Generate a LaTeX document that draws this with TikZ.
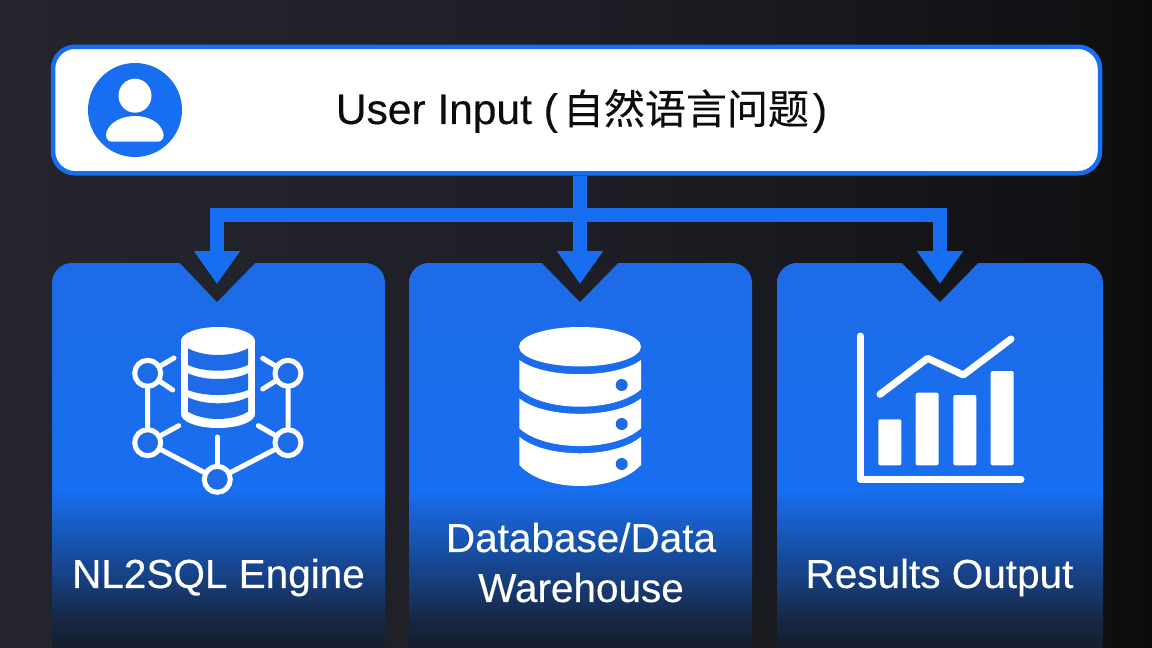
\documentclass[tikz,border=0pt]{standalone}
\usepackage{fontspec}
\usepackage{xcolor}
\usepackage{tikz}
\usetikzlibrary{positioning,arrows.meta,calc}
\setmainfont{Liberation Sans}
\newfontfamily\lblfont[FakeBold=0.25]{Liberation Sans}
\newfontfamily\cjk[FakeBold=0.2]{Noto Sans CJK SC}
\definecolor{flowcol} {RGB}{24, 110, 240}
\definecolor{cardcol} {RGB}{29, 107, 230}
\definecolor{fadecol} {RGB}{22, 29, 44}
\definecolor{inkcol}  {RGB}{12, 12, 14}
\definecolor{bgleft}  {RGB}{36, 37, 45}
\definecolor{bgmid}   {RGB}{30, 31, 38}
\definecolor{bgright} {RGB}{20, 21, 25}
\definecolor{bgedge}  {RGB}{12, 12, 13}
\pgfdeclareverticalshading{cardfade}{100bp}{
  color(0bp)=(fadecol);
  color(29.4bp)=(fadecol);
  color(32.7bp)=(fadecol!88!flowcol);
  color(38bp)=(fadecol!55!flowcol);
  color(48.1bp)=(flowcol);
  color(75bp)=(cardcol);
  color(100bp)=(cardcol)}
\pgfdeclarehorizontalshading{bgfade}{100bp}{
  color(0bp)=(bgleft);
  color(25bp)=(bgleft);
  color(50bp)=(bgmid);
  color(66bp)=(bgright);
  color(72bp)=(bgedge!50!bgright);
  color(75bp)=(bgedge);
  color(100bp)=(bgedge)}
\begin{document}
\begin{tikzpicture}[
  x=1pt,y=-1pt,
  card/.style={rectangle,rounded corners=20pt,minimum height=422pt,
               inner sep=0pt,shading=cardfade},
  inbox/.style={rectangle,rounded corners=22pt,draw=flowcol,fill=white,
                line width=4.5pt,minimum width=1047pt,minimum height=126.5pt,
                inner sep=0pt},
  lbl/.style={text=white,font=\lblfont\fontsize{40.5}{46}\selectfont,inner sep=0pt},
  flow/.style={flowcol,line width=14pt,-{Triangle[length=33pt,width=44pt]}},
  icon/.style={white,line width=5pt,line cap=round},
  hub/.style={circle,draw=white,fill=cardcol,line width=5pt,
              minimum size=26pt,inner sep=0pt},
  ink/.style={line width=7pt,white,line cap=round,line join=round},
  cyl/.style={fill=cardcol}
]
\useasboundingbox (0,0) rectangle (1152,648);
\shade[shading=bgfade] (0,0) rectangle (1152,648);
% cards
\begin{scope}
\clip (0,0) rectangle (1152,648);
\node[card,minimum width=333pt] (engine) at (218.5,474) {};
\node[card,minimum width=343pt] (store)  at (580.5,474) {};
\node[card,minimum width=326pt] (output) at (940,474) {};
\end{scope}
\fill[bgleft!75!bgmid] (179,262) -- (217,302) -- (256,262) -- cycle;
\fill[bgmid] (541,262) -- (580,302) -- (619,262) -- cycle;
\fill[bgright!90!bgmid] (901,262) -- (940,302) -- (979,262) -- cycle;
% input box
\node[inbox] (input) at (576.5,110) {};
\node[text=inkcol,inner sep=0pt,font=\lblfont\fontsize{42.5}{48}\selectfont] (inputlbl) at (581.5,111)
  {User Input (\hspace{5pt}{\cjk\fontsize{41}{48}\selectfont 自然语言问题}\hspace{4pt})};
% connectors
\coordinate (hub) at (580,215);
\coordinate (tipa) at (217,284);
\coordinate (tipb) at (580,284);
\coordinate (tipc) at (940,284);
\draw[flow] (input.south -| hub) -- (tipb);
\draw[flow] (hub) -| (tipa);
\draw[flow] (hub) -| (tipc);
% person
\fill[flowcol] (135,110) circle (47);
\fill[white] (135,95.7) ellipse (16.5 and 17);
\fill[white] (112,141.7) .. controls (107,141.7) and (105,137) .. (106.5,132)
  .. controls (110,122) and (122,116) .. (135,116)
  .. controls (148,116) and (160,122) .. (163,132)
  .. controls (165,137) and (162,141.7) .. (158,141.7) -- cycle;
% engine icon
\node[hub] (n1) at (147.7,373.3) {};
\node[hub] (n2) at (288,373.3) {};
\node[hub] (n3) at (147.7,442.7) {};
\node[hub] (n4) at (288,442.7) {};
\node[hub] (n5) at (217.3,479.3) {};
\draw[icon] (n1) -- (n3) (n3) -- (n5) (n5) -- (n4) (n4) -- (n2);
\draw[icon] (n1) -- (174,358) (n1) -- (172.7,390);
\draw[icon] (n2) -- (262.7,358.3) (n2) -- (262.7,389);
\draw[icon] (n3) -- (178.7,425.7) (n4) -- (258.3,425.7);
\draw[icon] (n5) -- (217.3,437);
\fill[white] (218,341) ellipse (37 and 14);
\fill[white] (218,414) ellipse (37 and 14);
\fill[white] (181,341) rectangle (255,414);
\foreach \ta/\tm/\ba/\bm in {348.3/357.2/365/372.6,373.3/380.9/390/396.7,397.3/405.3/411.7/421.4}
  \fill[cyl] (188,\ta) .. controls (204,\tm) and (232,\tm) .. (248,\ta)
    -- (248,\ba) .. controls (232,\bm) and (204,\bm) .. (188,\ba) -- cycle;
% store icon
\fill[white] (580,346.7) ellipse (61 and 19.7);
\foreach \ta/\tm/\ba/\bm in {360/379/389.3/412.5,398.3/419/428.3/452,436.7/458.8/465/493}
  \fill[white] (519.3,\ta) .. controls (545,\tm) and (615,\tm) .. (641,\ta)
    -- (641,\ba) .. controls (615,\bm) and (545,\bm) .. (519.3,\ba) -- cycle;
\foreach \y in {385,424,464}
  \fill[cardcol] (621.7,\y) circle (6);
% output icon
\draw[ink] (860,336) -- (860,479) -- (1021,479);
\foreach \xa/\ya in {878.3/419.3,915.7/392.7,953.3/395,990.7/371}
  \fill[white,rounded corners=2pt] (\xa,\ya) rectangle ++(23,465.3-\ya);
\draw[ink] (880,394.3) -- (927.7,358.3) -- (963.3,375) -- (1011,339);
% labels
\node[lbl] (enginelbl) at (218.5,577.5) {NL2SQL Engine};
\node[lbl] (storelbl) at (581,537.5) {Database/Data};
\node[lbl,below=50pt of storelbl.center,anchor=center] (storelbb) {Warehouse};
\node[lbl] (outputlbl) at (939.5,577.5) {Results Output};
\end{tikzpicture}
\end{document}
